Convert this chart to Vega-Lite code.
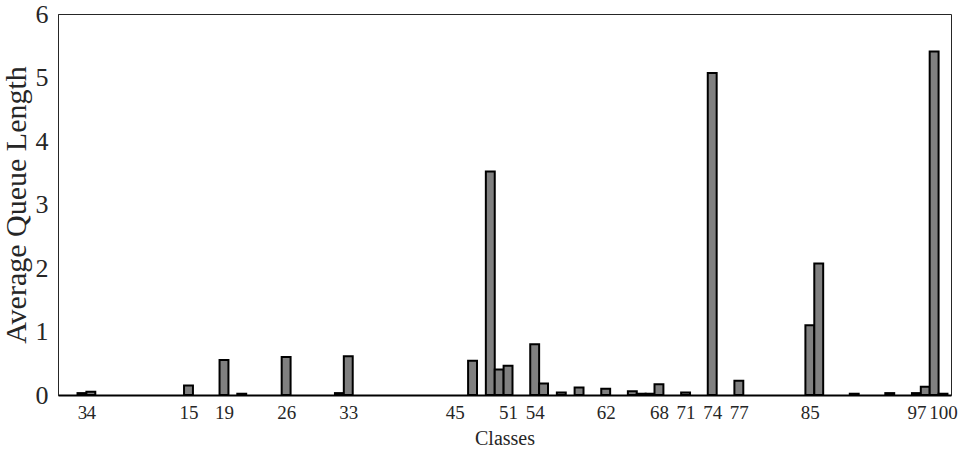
{
  "$schema": "https://vega.github.io/schema/vega-lite/v6.json",
  "width": 893,
  "height": 381,
  "autosize": {"type": "none"},
  "padding": {"left": 58, "top": 14, "right": 15, "bottom": 55},
  "background": "white",
  "data": {
    "values": [
      {"cls": 3, "q": 0.03},
      {"cls": 4, "q": 0.05},
      {"cls": 15, "q": 0.15},
      {"cls": 19, "q": 0.55},
      {"cls": 21, "q": 0.02},
      {"cls": 26, "q": 0.6},
      {"cls": 32, "q": 0.03},
      {"cls": 33, "q": 0.61},
      {"cls": 47, "q": 0.54},
      {"cls": 49, "q": 3.52},
      {"cls": 50, "q": 0.4},
      {"cls": 51, "q": 0.46},
      {"cls": 54, "q": 0.8},
      {"cls": 55, "q": 0.18},
      {"cls": 57, "q": 0.04},
      {"cls": 59, "q": 0.12},
      {"cls": 62, "q": 0.1},
      {"cls": 65, "q": 0.06},
      {"cls": 66, "q": 0.02},
      {"cls": 67, "q": 0.02},
      {"cls": 68, "q": 0.17},
      {"cls": 71, "q": 0.04},
      {"cls": 74, "q": 5.07},
      {"cls": 77, "q": 0.225},
      {"cls": 85, "q": 1.1},
      {"cls": 86, "q": 2.07},
      {"cls": 90, "q": 0.02},
      {"cls": 94, "q": 0.03},
      {"cls": 97, "q": 0.03},
      {"cls": 98, "q": 0.13},
      {"cls": 99, "q": 5.41},
      {"cls": 100, "q": 0.02}
    ]
  },
  "mark": {"type": "bar", "size": 8.9, "fill": "#808080", "stroke": "#000000", "strokeWidth": 2},
  "encoding": {
    "x": {
      "field": "cls",
      "type": "quantitative",
      "scale": {"domain": [0.3, 100.9], "nice": false, "zero": false, "padding": 0},
      "axis": {
        "title": "Classes",
        "values": [3, 4, 15, 19, 26, 33, 45, 51, 54, 62, 68, 71, 74, 77, 85, 97, 100],
        "labelFontSize": 19,
        "titleFontSize": 20,
        "labelPadding": 8,
        "titlePadding": 6,
        "domainColor": "#000000",
        "domainWidth": 2,
        "labelOverlap": false,
        "labelFlush": false
      }
    },
    "y": {
      "field": "q",
      "type": "quantitative",
      "scale": {"domain": [0, 6], "nice": false},
      "axis": {
        "title": "Average Queue Length",
        "values": [0, 1, 2, 3, 4, 5, 6],
        "labelFontSize": 26,
        "titleFontSize": 30,
        "labelPadding": 10,
        "titlePadding": 4,
        "domainColor": "#262626",
        "domainWidth": 1
      }
    }
  },
  "config": {
    "view": {"stroke": "#262626", "strokeWidth": 1},
    "font": "Liberation Serif",
    "axis": {
      "grid": false,
      "ticks": false,
      "labelFont": "Liberation Serif",
      "titleFont": "Liberation Serif",
      "labelColor": "#262626",
      "titleColor": "#262626",
      "titleFontWeight": "normal"
    }
  }
}
